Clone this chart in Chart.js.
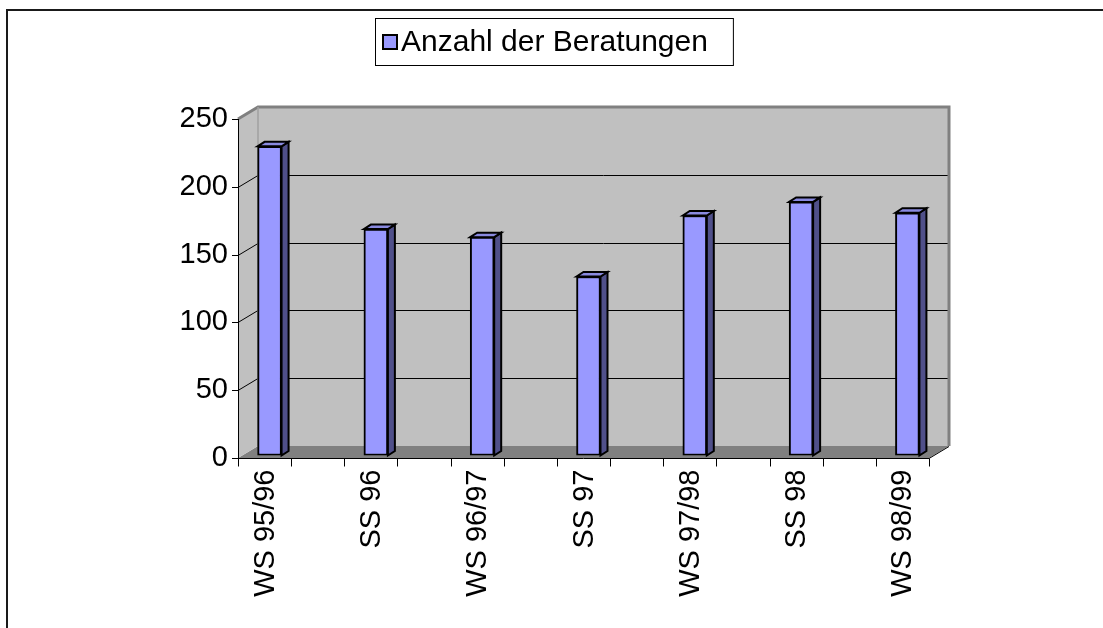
<!DOCTYPE html>
<html><head><meta charset="utf-8">
<script src="https://cdn.jsdelivr.net/npm/chart.js@4.4.0/dist/chart.umd.min.js"></script>
<style>html,body{margin:0;padding:0;background:#fff;overflow:hidden}</style>
</head><body>
<canvas id="c" width="1103" height="628"></canvas>
<script>
const categories = ["WS 95/96", "SS 96", "WS 96/97", "SS 97", "WS 97/98", "SS 98", "WS 98/99"];
const seriesLabel = "Anzahl der Beratungen";
const seriesValues = [228, 167, 161, 132, 177, 187, 179];
const yTicks = [0, 50, 100, 150, 200, 250];

const FONT = '"Liberation Sans", Arial, sans-serif';
const DEPTH = {dx: 20, dy: -12};
const FRONT = {dx: -5, dy: 2.5};
const BAR_D = {dx: 7, dy: -4.5};

function poly(ctx, pts, fill, stroke, lw) {
  ctx.beginPath();
  ctx.moveTo(pts[0][0], pts[0][1]);
  for (let i = 1; i < pts.length; i++) ctx.lineTo(pts[i][0], pts[i][1]);
  ctx.closePath();
  if (fill) { ctx.fillStyle = fill; ctx.fill(); }
  if (stroke) { ctx.strokeStyle = stroke; ctx.lineWidth = lw; ctx.lineJoin = 'miter'; ctx.stroke(); }
}
function line(ctx, x1, y1, x2, y2, color, lw) {
  ctx.beginPath(); ctx.moveTo(x1, y1); ctx.lineTo(x2, y2);
  ctx.strokeStyle = color; ctx.lineWidth = lw; ctx.stroke();
}

function geom(chart) {
  const {x, y} = chart.scales;
  const fx = v => x.getPixelForValue(v) + FRONT.dx;
  const fy = v => y.getPixelForValue(v) + FRONT.dy;
  return {fx, fy, L: fx(x.min), R: fx(x.max), B: fy(y.min), T: fy(y.max), x, y};
}

const threeD = {
  id: 'threeD',
  beforeDraw(chart) {
    const ctx = chart.ctx;
    ctx.save();
    ctx.fillStyle = '#fff';
    ctx.fillRect(0, 0, chart.width, chart.height);
    ctx.strokeStyle = '#1a1a1a'; ctx.lineWidth = 2;
    ctx.beginPath(); ctx.moveTo(7, chart.height + 5); ctx.lineTo(7, 10); ctx.lineTo(chart.width + 5, 10); ctx.stroke();
    ctx.restore();
  },
  beforeDatasetsDraw(chart) {
    const ctx = chart.ctx;
    const g = geom(chart);
    const {L, R, B, T, fy} = g;
    const dx = DEPTH.dx, dy = DEPTH.dy;
    ctx.save();
    poly(ctx, [[L, B], [R, B], [R + dx, B + dy], [L + dx, B + dy]], '#808080', null, 0);
    poly(ctx, [[L + dx, T + dy], [R + dx, T + dy], [R + dx, B + dy], [L + dx, B + dy]], '#c0c0c0', null, 0);
    poly(ctx, [[L, B], [L, T], [L + dx, T + dy], [L + dx, B + dy]], '#c0c0c0', null, 0);
    yTicks.forEach(v => {
      if (v === yTicks[0] || v === yTicks[yTicks.length - 1]) return;
      const py = Math.round(fy(v)) + 0.5;
      ctx.beginPath();
      ctx.moveTo(L, py); ctx.lineTo(L + dx, py + dy); ctx.lineTo(R + dx, py + dy);
      ctx.strokeStyle = '#000'; ctx.lineWidth = 1; ctx.stroke();
    });
    ctx.beginPath();
    ctx.moveTo(L, T); ctx.lineTo(L + dx, T + dy); ctx.lineTo(R + dx, T + dy); ctx.lineTo(R + dx, B + dy);
    ctx.strokeStyle = '#808080'; ctx.lineWidth = 3; ctx.stroke();
    line(ctx, L + dx, T + dy, L + dx, B + dy, '#a0a0a0', 1.5);
    const meta = chart.getDatasetMeta(0);
    meta.data.forEach(el => {
      const p = el.getProps(['x', 'y', 'base', 'width'], true);
      const l = p.x - p.width / 2, r = p.x + p.width / 2, t = p.y, b = p.base;
      const bx = BAR_D.dx, by = BAR_D.dy;
      poly(ctx, [[r, t], [r + bx, t + by], [r + bx, b + by], [r, b]], '#50508a', '#000', 2);
      poly(ctx, [[l, t], [l + bx, t + by], [r + bx, t + by], [r, t]], '#8a8ae0', '#000', 2);
    });
    ctx.restore();
  },
  afterDatasetsDraw(chart) {
    const ctx = chart.ctx;
    const g = geom(chart);
    const {L, R, B, T, fx, fy, x} = g;
    ctx.save();
    line(ctx, L + 0.5, T, L + 0.5, B + 1, '#000', 1);
    yTicks.forEach(v => {
      const py = Math.round(fy(v)) + 0.5;
      line(ctx, L - 6, py, L + 0.5, py, '#000', 1);
    });
    const by = Math.round(B) + 0.5;
    line(ctx, L, by, R, by, '#000', 1);
    line(ctx, R, by, R + DEPTH.dx, by + DEPTH.dy, '#000', 1);
    const n = (x.max - x.min) / 0.5;
    for (let k = 0; k <= n; k++) {
      const px = Math.round(fx(x.min + k * 0.5)) + 0.5;
      line(ctx, px, by, px, by + 8, '#000', 1);
    }
    ctx.restore();
  },
  afterDraw(chart) {
    const ctx = chart.ctx;
    ctx.save();
    ctx.font = '30px ' + FONT;
    const tw = ctx.measureText(seriesLabel).width;
    const bx = 375, bt = 18, bh = 47;
    const bw = tw + 51;
    ctx.fillStyle = '#fff';
    ctx.fillRect(bx, bt, bw, bh);
    ctx.strokeStyle = '#000'; ctx.lineWidth = 1;
    ctx.strokeRect(bx + 0.5, bt + 0.5, bw, bh);
    ctx.fillStyle = chart.data.datasets[0].backgroundColor;
    ctx.fillRect(383, 35, 14, 14);
    ctx.lineWidth = 2; ctx.strokeStyle = '#000';
    ctx.strokeRect(383, 35, 14, 14);
    ctx.fillStyle = '#000';
    ctx.textBaseline = 'middle';
    ctx.textAlign = 'left';
    ctx.fillText(seriesLabel, 401, bt + bh / 2 + 1);
    ctx.restore();
  }
};

new Chart(document.getElementById('c'), {
  type: 'bar',
  data: {
    datasets: [{
      label: seriesLabel,
      data: seriesValues.map((v, i) => ({x: i, y: v})),
      backgroundColor: '#9999ff',
      borderColor: '#000',
      borderWidth: 2,
      borderSkipped: false,
      barThickness: 24
    }]
  },
  options: {
    responsive: false,
    animation: false,
    devicePixelRatio: 1,
    layout: {autoPadding: false, padding: {left: 0, top: 116.5, right: 169, bottom: 0}},
    plugins: {legend: {display: false}, tooltip: {enabled: false}, title: {display: false}},
    scales: {
      x: {
        type: 'linear',
        offset: false,
        min: -0.25,
        max: 6.25,
        bounds: 'data',
        afterBuildTicks: s => { s.ticks = categories.map((c, i) => ({value: i})); },
        afterFit: s => { s.height = 628 - 455.5; s.paddingLeft = 0; s.paddingRight = 0; },
        grid: {display: false, drawTicks: false, offset: false},
        border: {display: false},
        ticks: {
          autoSkip: false,
          minRotation: 90,
          maxRotation: 90,
          padding: 14,
          labelOffset: -4,
          color: '#000',
          font: {family: FONT, size: 29},
          callback: v => categories[Math.round(v)]
        }
      },
      y: {
        type: 'linear',
        min: yTicks[0],
        max: yTicks[yTicks.length - 1],
        afterBuildTicks: s => { s.ticks = yTicks.map(v => ({value: v})); },
        afterFit: s => { s.width = 243; s.paddingTop = 0; s.paddingBottom = 0; },
        grid: {display: false, drawTicks: false},
        border: {display: false},
        ticks: {
          padding: 15,
          labelOffset: 2.5,
          color: '#000',
          font: {family: FONT, size: 29}
        }
      }
    }
  },
  plugins: [threeD]
});
</script>
</body></html>
